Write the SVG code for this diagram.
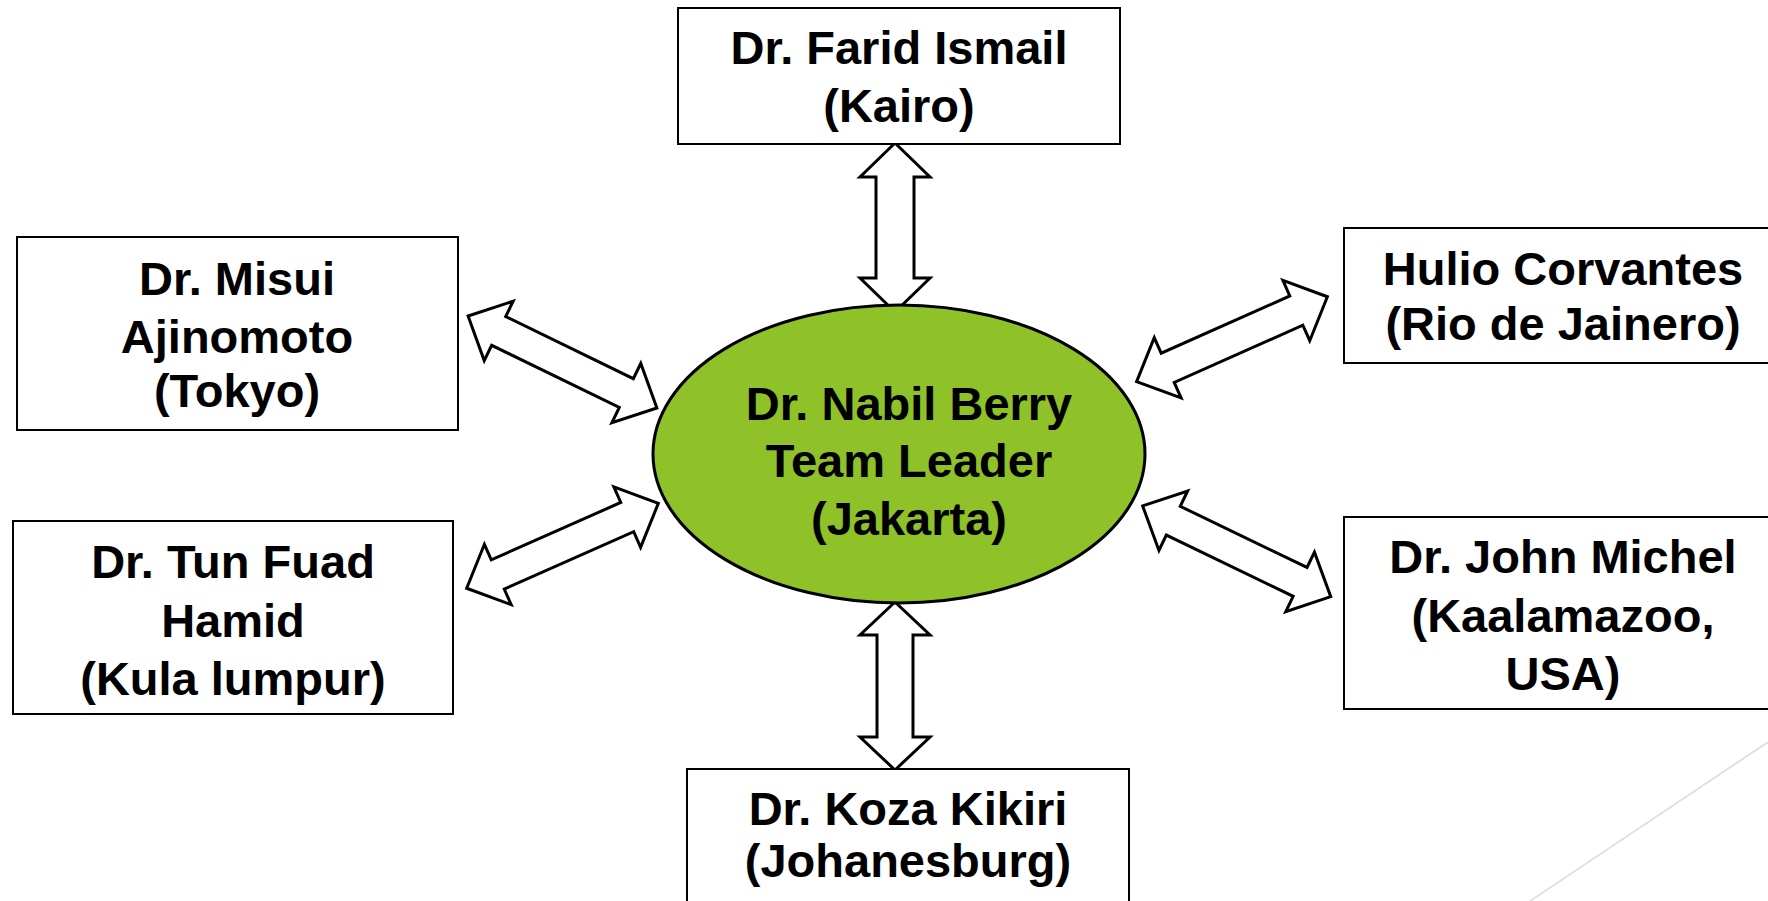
<svg xmlns="http://www.w3.org/2000/svg" width="1768" height="901" viewBox="0 0 1768 901">
<style>
.box{fill:#ffffff;stroke:#000000;stroke-width:2}
.hub{fill:#8fc128;stroke:#000000;stroke-width:3}
.arr{fill:#ffffff;stroke:#000000;stroke-width:3;stroke-linejoin:miter}
.t{font-family:"Liberation Sans",Arial,sans-serif;font-weight:bold;font-size:47px;fill:#000000;text-anchor:middle}
.deco{stroke:#d9d9d9;stroke-width:1.5;fill:none}
</style>
<rect width="1768" height="901" fill="#ffffff"/>
<line class="deco" x1="1530" y1="901" x2="1768" y2="742"/>
<g id="connectors">
<polygon class="arr" transform="translate(895,227.5) rotate(90)" points="-84.5,0 -50.5,-35 -50.5,-19 50.5,-19 50.5,-35 84.5,0 50.5,35 50.5,19 -50.5,19 -50.5,35"/>
<polygon class="arr" transform="translate(895,686) rotate(90)" points="-84,0 -51,-35 -51,-18 51,-18 51,-35 84,0 51,35 51,18 -51,18 -51,35"/>
<polygon class="arr" transform="translate(562.5,362) rotate(25.96)" points="-105,0 -71,-33 -71,-16 71,-16 71,-33 105,0 71,33 71,16 -71,16 -71,33"/>
<polygon class="arr" transform="translate(562.5,545.8) rotate(-23.9)" points="-104.8,0 -70.8,-33 -70.8,-16 70.8,-16 70.8,-33 104.8,0 70.8,33 70.8,16 -70.8,16 -70.8,33"/>
<polygon class="arr" transform="translate(1232,339.2) rotate(-24)" points="-104.4,0 -70.4,-33 -70.4,-16 70.4,-16 70.4,-33 104.4,0 70.4,33 70.4,16 -70.4,16 -70.4,33"/>
<polygon class="arr" transform="translate(1236.7,551.3) rotate(25.75)" points="-104.4,0 -70.4,-33 -70.4,-16 70.4,-16 70.4,-33 104.4,0 70.4,33 70.4,16 -70.4,16 -70.4,33"/>
</g>
<g id="hub">
<ellipse class="hub" cx="899" cy="454" rx="246" ry="149"/>
<text class="t" x="909" y="420">Dr. Nabil Berry</text>
<text class="t" x="909" y="477">Team Leader</text>
<text class="t" x="909" y="535">(Jakarta)</text>
</g>
<g id="node-kairo">
<rect class="box" x="678" y="8" width="442" height="136"/>
<text class="t" x="899" y="64">Dr. Farid Ismail</text>
<text class="t" x="899" y="122">(Kairo)</text>
</g>
<g id="node-tokyo">
<rect class="box" x="17" y="237" width="441" height="193"/>
<text class="t" x="237" y="295">Dr. Misui</text>
<text class="t" x="237" y="353">Ajinomoto</text>
<text class="t" x="237" y="407">(Tokyo)</text>
</g>
<g id="node-kl">
<rect class="box" x="13" y="521" width="440" height="193"/>
<text class="t" x="233" y="578">Dr. Tun Fuad</text>
<text class="t" x="233" y="637">Hamid</text>
<text class="t" x="233" y="695">(Kula lumpur)</text>
</g>
<g id="node-rio">
<rect class="box" x="1344" y="228" width="437" height="135"/>
<text class="t" x="1563" y="285">Hulio Corvantes</text>
<text class="t" x="1563" y="340">(Rio de Jainero)</text>
</g>
<g id="node-kalamazoo">
<rect class="box" x="1344" y="517" width="437" height="192"/>
<text class="t" x="1563" y="573">Dr. John Michel</text>
<text class="t" x="1563" y="632">(Kaalamazoo,</text>
<text class="t" x="1563" y="690">USA)</text>
</g>
<g id="node-johannesburg">
<rect class="box" x="687" y="769" width="442" height="150"/>
<text class="t" x="908" y="825">Dr. Koza Kikiri</text>
<text class="t" x="908" y="877">(Johanesburg)</text>
</g>
</svg>
